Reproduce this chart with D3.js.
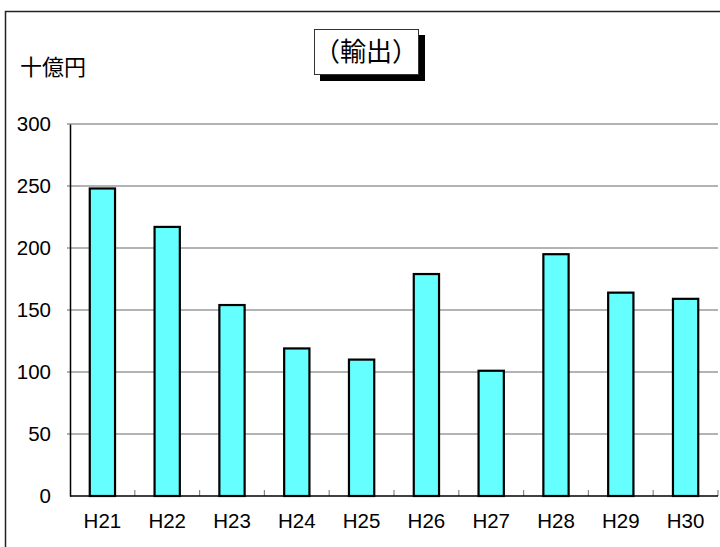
<!DOCTYPE html>
<html>
<head>
<meta charset="utf-8">
<script src="https://cdn.jsdelivr.net/npm/d3@7"></script>
<style>
  body { margin: 0; background: #fff; }
  svg { display: block; }
</style>
</head>
<body>
<svg id="chart"></svg>
<script>
// data (billion yen, exports)
const years = ["H21", "H22", "H23", "H24", "H25", "H26", "H27", "H28", "H29", "H30"];
const exportsValues = [248, 217, 154, 119, 110, 179, 101, 195, 164, 159];
const yTicks = [0, 50, 100, 150, 200, 250, 300];
const titleText = "（輸出）";
const unitText = "十億円";

const svgWidth = 720, svgHeight = 547;
const margin = { top: 124, right: 2, bottom: 51, left: 70 };
const width = svgWidth - margin.left - margin.right;
const height = svgHeight - margin.top - margin.bottom;
const latin = "'Liberation Sans', Arial, sans-serif";
const cjk = "'Noto Sans CJK JP', sans-serif";

const svg = d3.select("#chart")
  .attr("width", svgWidth)
  .attr("height", svgHeight);

// outer frame (only top and left visible in the picture)
svg.append("rect")
  .attr("x", 5.5).attr("y", 11.5)
  .attr("width", svgWidth + 20).attr("height", svgHeight + 20)
  .attr("fill", "none")
  .attr("stroke", "#222")
  .attr("stroke-width", 1.5);

const g = svg.append("g")
  .attr("transform", "translate(" + margin.left + "," + margin.top + ")");

const x = d3.scaleBand().domain(years).range([0, width]).padding(0);
const y = d3.scaleLinear().domain([0, 300]).range([height, 0]);

// gridlines
g.append("g")
  .selectAll("line")
  .data(yTicks.filter(d => d > 0))
  .join("line")
  .attr("x1", -3).attr("x2", width)
  .attr("y1", d => y(d)).attr("y2", d => y(d))
  .attr("stroke", "#9a9a9a")
  .attr("stroke-width", 1.5);

// y axis
const yAxis = g.append("g")
  .call(d3.axisLeft(y).tickValues(yTicks).tickSize(0).tickPadding(19));
yAxis.select(".domain").attr("stroke", "#000").attr("stroke-width", 1.5);
yAxis.selectAll("text")
  .attr("font-family", latin)
  .attr("font-size", 20.5)
  .attr("fill", "#000");

// bars
const barW = x.bandwidth() * 0.39;
g.append("g")
  .selectAll("rect")
  .data(exportsValues)
  .join("rect")
  .attr("x", (d, i) => x(years[i]) + (x.bandwidth() - barW) / 2)
  .attr("y", d => y(d))
  .attr("width", barW)
  .attr("height", d => y(0) - y(d))
  .attr("fill", "#66ffff")
  .attr("stroke", "#000")
  .attr("stroke-width", 2.2);

// x axis: ticks between categories, pointing up
const xAxis = g.append("g")
  .attr("transform", "translate(0," + height + ")");
xAxis.selectAll("line.tick")
  .data(years)
  .join("line")
  .attr("class", "tick")
  .attr("x1", d => x(d) + x.bandwidth()).attr("x2", d => x(d) + x.bandwidth())
  .attr("y1", 0).attr("y2", -6)
  .attr("stroke", "#888")
  .attr("stroke-width", 1.2);
xAxis.append("line")
  .attr("x1", 0).attr("x2", width)
  .attr("stroke", "#000")
  .attr("stroke-width", 1.5);
xAxis.selectAll("text")
  .data(years)
  .join("text")
  .attr("x", d => x(d) + x.bandwidth() / 2)
  .attr("y", 32)
  .attr("text-anchor", "middle")
  .attr("font-family", latin)
  .attr("font-size", 20.5)
  .attr("fill", "#000")
  .text(d => d);

// unit label
svg.append("text")
  .attr("x", 20).attr("y", 75)
  .attr("font-family", cjk)
  .attr("font-size", 22)
  .attr("fill", "#000")
  .text(unitText);

// title box with shadow
svg.append("rect")
  .attr("x", 320).attr("y", 35)
  .attr("width", 105).attr("height", 46)
  .attr("fill", "#000");
svg.append("rect")
  .attr("x", 314.5).attr("y", 29.5)
  .attr("width", 104).attr("height", 45)
  .attr("fill", "#fff")
  .attr("stroke", "#333")
  .attr("stroke-width", 1);
svg.append("text")
  .attr("x", 366).attr("y", 61)
  .attr("text-anchor", "middle")
  .attr("font-family", cjk)
  .attr("font-size", 26)
  .attr("fill", "#000")
  .text(titleText);
</script>
</body>
</html>
